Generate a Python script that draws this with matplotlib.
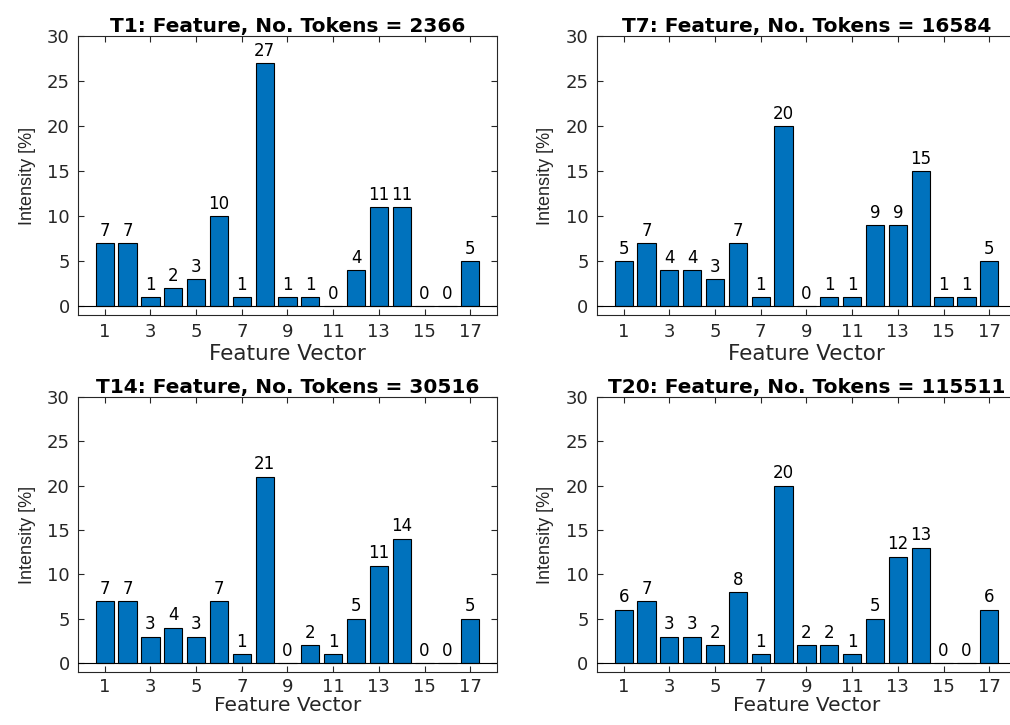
import matplotlib
matplotlib.use('Agg')
import matplotlib.pyplot as plt
import numpy as np

# Feature vector intensities per token set
features = np.arange(1, 18)
titles = ['T1: Feature, No. Tokens = 2366',
          'T7: Feature, No. Tokens = 16584',
          'T14: Feature, No. Tokens = 30516',
          'T20: Feature, No. Tokens = 115511']
t1_values = [7, 7, 1, 2, 3, 10, 1, 27, 1, 1, 0, 4, 11, 11, 0, 0, 5]
t7_values = [5, 7, 4, 4, 3, 7, 1, 20, 0, 1, 1, 9, 9, 15, 1, 1, 5]
t14_values = [7, 7, 3, 4, 3, 7, 1, 21, 0, 2, 1, 5, 11, 14, 0, 0, 5]
t20_values = [6, 7, 3, 3, 2, 8, 1, 20, 2, 2, 1, 5, 12, 13, 0, 0, 6]
xtick_values = [1, 3, 5, 7, 9, 11, 13, 15, 17]
ytick_values = [0, 5, 10, 15, 20, 25, 30]

plt.rcParams['font.family'] = ['DejaVu Sans']
axis_color = '#262626'
bar_color = '#0072BD'

fig = plt.figure(figsize=(10.1, 7.25), dpi=100)

# axes boxes in figure fractions: left, bottom, width, height
positions = [
    [0.0772, 0.5655, 0.4149, 0.3848],
    [0.5910, 0.5655, 0.4149, 0.3848],
    [0.0772, 0.0731, 0.4149, 0.3793],
    [0.5910, 0.0731, 0.4149, 0.3793],
]
series = [t1_values, t7_values, t14_values, t20_values]

for i, (pos, title, values) in enumerate(zip(positions, titles, series)):
    bottom_row = i >= 2
    ax = fig.add_axes(pos)
    ax.bar(features, values, width=0.8, color=bar_color,
           edgecolor='black', linewidth=0.8, zorder=2)
    ax.axhline(0, color='black', linewidth=0.8, zorder=3)

    # value labels above each bar
    for x, v in zip(features, values):
        ax.annotate(f'{v}', (x, v), xytext=(0, 2.5), textcoords='offset points',
                    ha='center', va='bottom', fontsize=12, color='black')

    ax.set_xlim(-0.17, 18.17)
    ax.set_ylim(-1, 30)
    ax.set_xticks(xtick_values)
    ax.set_yticks(ytick_values)
    ax.tick_params(direction='in', top=True, right=True, length=4,
                   width=0.8, colors=axis_color, labelsize=13,
                   labelcolor=axis_color, pad=6)
    if bottom_row:
        ax.tick_params(axis='x', pad=4)
    for spine in ax.spines.values():
        spine.set_color(axis_color)
        spine.set_linewidth(0.8)

    ax.set_title(title, fontsize=14.5, fontweight='bold', pad=3)
    # bottom row sits close to the figure edge, so keep its label tighter
    ax.set_xlabel('Feature Vector', fontsize=14.5 if bottom_row else 15.5,
                  color=axis_color, labelpad=0 if bottom_row else 2)
    ax.set_ylabel('Intensity [%]', fontsize=13, color=axis_color,
                  family=['Liberation Sans', 'DejaVu Sans'], labelpad=8)

fig.savefig('out.png', dpi=100)
